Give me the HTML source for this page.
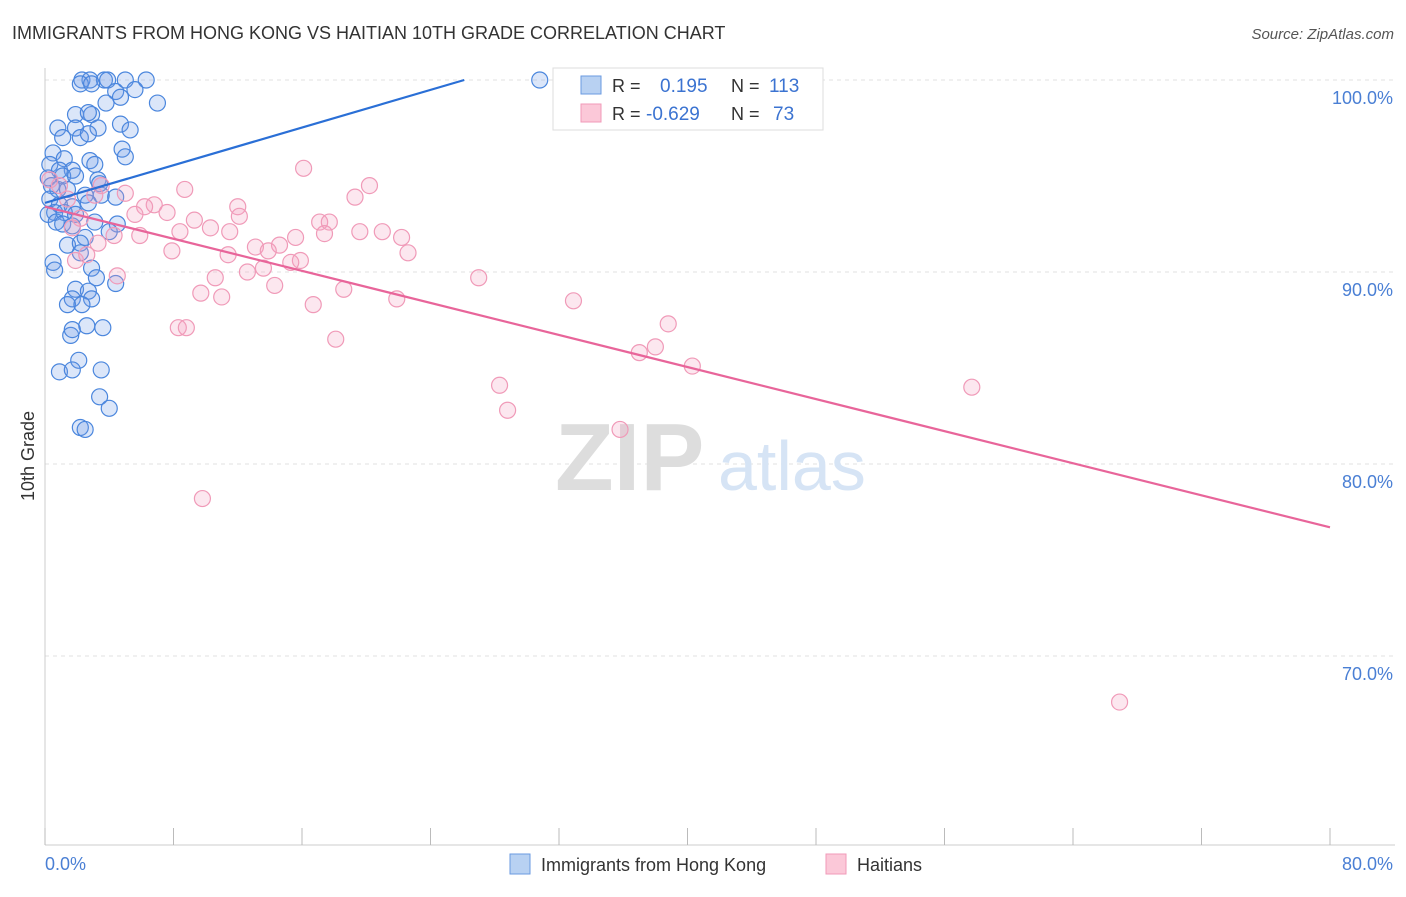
<!DOCTYPE html>
<html><head><meta charset="utf-8">
<style>
body{margin:0;background:#fff;font-family:"Liberation Sans",sans-serif;}
svg text{font-family:"Liberation Sans",sans-serif;}
</style></head>
<body>
<svg width="1406" height="892" xmlns="http://www.w3.org/2000/svg">
<text x="12" y="39" font-size="18" fill="#333">IMMIGRANTS FROM HONG KONG VS HAITIAN 10TH GRADE CORRELATION CHART</text>
<text x="1394" y="39" font-size="15" fill="#555" font-style="italic" text-anchor="end">Source: ZipAtlas.com</text>
<g id="grid"></g>
<g>
<text x="555" y="490" font-size="96" fill="#ddd" font-family="Liberation Serif" font-weight="bold">ZIP</text>
<text x="718" y="490" font-size="70" fill="#d6e4f5">atlas</text>
</g>
<line x1="45" y1="68" x2="45" y2="845" stroke="#ccc"/>
<line x1="45" y1="845" x2="1395" y2="845" stroke="#ccc"/>
<g id="xt"></g>
<g id="yl"></g>
<text x="45" y="870" font-size="18" fill="#4a7fd4">0.0%</text>
<text x="1393" y="870" font-size="18" fill="#4a7fd4" text-anchor="end">80.0%</text>
<text transform="translate(34,456) rotate(-90)" font-size="18" fill="#333" text-anchor="middle">10th Grade</text>
<g id="pts"></g>
<g id="lines"></g>
<g>
<rect x="553" y="68" width="270" height="62" fill="#fff" stroke="#ddd"/>
<rect x="581" y="76" width="20" height="18" fill="#b8d1f2" stroke="#6a9ae0"/>
<rect x="581" y="104" width="20" height="18" fill="#fbc8d8" stroke="#f09ab8"/>
<text x="612" y="92" font-size="18" fill="#333">R =</text>
<text x="660" y="92" font-size="19" fill="#3b73d1">0.195</text>
<text x="731" y="92" font-size="18" fill="#333">N =</text>
<text x="769" y="92" font-size="19" fill="#3b73d1">113</text>
<text x="612" y="120" font-size="18" fill="#333">R =</text>
<text x="646" y="120" font-size="19" fill="#3b73d1">-0.629</text>
<text x="731" y="120" font-size="18" fill="#333">N =</text>
<text x="773" y="120" font-size="19" fill="#3b73d1">73</text>
</g>
<g>
<rect x="510" y="854" width="20" height="20" fill="#b8d1f2" stroke="#6a9ae0"/>
<text x="541" y="871" font-size="18" fill="#333">Immigrants from Hong Kong</text>
<rect x="826" y="854" width="20" height="20" fill="#fbc8d8" stroke="#f09ab8"/>
<text x="857" y="871" font-size="18" fill="#333">Haitians</text>
</g>
</svg>
<script>
const yTicks=[100,90,80,70];
const xTickVals=[0,8,16,24,32,40,48,56,64,72,80];
const blueX=[30.8,2.3,2.8,3.7,3.9,5.0,6.3,2.2,2.9,4.4,5.6,4.7,3.8,7.0,1.9,2.9,2.7,4.7,5.3,0.8,1.9,3.3,1.1,2.2,2.7,4.8,5.0,0.5,1.2,2.8,3.1,0.3,1.7,0.9,0.2,1.1,1.9,3.3,3.4,0.4,0.8,1.4,2.5,3.5,4.4,0.3,0.9,1.7,2.7,0.6,1.2,1.9,0.2,0.7,1.1,1.7,3.1,4.5,4.0,2.5,1.4,2.2,2.2,0.5,0.6,2.9,3.2,4.4,1.9,2.7,1.7,2.9,1.4,2.3,2.6,3.6,1.6,1.7,2.1,0.9,1.7,3.5,3.4,4.0,2.2,2.5];
const blueY=[100,100,100,100,100,100,100,99.8,99.8,99.4,99.5,99.1,98.8,98.8,98.2,98.2,98.3,97.7,97.4,97.5,97.5,97.5,97.0,97.0,97.2,96.4,96.0,96.2,95.9,95.8,95.6,95.6,95.3,95.3,94.9,95.0,95.0,94.8,94.6,94.5,94.3,94.3,94.0,94.0,93.9,93.8,93.5,93.4,93.6,93.1,93.1,93.0,93.0,92.6,92.5,92.4,92.6,92.5,92.1,91.8,91.4,91.5,91.0,90.5,90.1,90.2,89.7,89.4,89.1,89.0,88.6,88.6,88.3,88.3,87.2,87.1,86.7,87.0,85.4,84.8,84.9,84.9,83.5,82.9,81.9,81.8];
const pinkX=[32.4,16.1,20.2,19.3,8.7,5.0,3.5,3.1,12.0,6.8,6.2,7.6,5.6,9.3,10.3,12.1,11.5,8.4,17.1,17.7,21.0,19.6,22.2,17.4,15.6,13.1,14.6,13.9,7.9,11.4,22.6,3.3,4.3,5.9,1.9,2.6,15.9,15.3,13.6,12.6,10.6,4.5,27.0,14.3,18.6,9.7,11.0,21.9,32.9,16.7,8.3,8.8,18.1,38.8,38.0,37.0,40.3,28.3,28.8,57.7,35.8,9.8,66.9,2.2,1.4,0.9,0.3,1.7];
const pinkY=[100,95.4,94.5,93.9,94.3,94.1,94.5,94.0,93.4,93.5,93.4,93.1,93.0,92.7,92.3,92.9,92.1,92.1,92.6,92.6,92.1,92.1,91.8,92.0,91.8,91.3,91.4,91.1,91.1,90.9,91.0,91.5,91.9,91.9,90.6,90.9,90.6,90.5,90.2,90.0,89.7,89.8,89.7,89.3,89.1,88.9,88.7,88.6,88.5,88.3,87.1,87.1,86.5,87.3,86.1,85.8,85.1,84.1,82.8,84.0,81.8,78.2,67.6,92.8,93.8,94.5,94.8,92.3];
const blueTrend=[[0,93.6],[26.1,100]];
const pinkTrend=[[0,93.4],[80,76.7]];
const NS="http://www.w3.org/2000/svg";
const X=v=>45+v*1285/80;
const Y=v=>80+(100-v)*19.2;
function mk(tag,at,parent){const e=document.createElementNS(NS,tag);for(const k in at)e.setAttribute(k,at[k]);document.getElementById(parent).appendChild(e);return e;}
yTicks.forEach(t=>{
 const l=mk('line',{x1:45,x2:1395,y1:Y(t),y2:Y(t),stroke:'#e2e2e2','stroke-dasharray':'4,4'},'grid');
 
 
 const tx=mk('text',{x:1393,y:Y(t)+24,'font-size':18,fill:'#4a7fd4','text-anchor':'end'},'yl');
 tx.textContent=t.toFixed(1)+'%';
 
 
});
xTickVals.forEach(t=>{
 const l=mk('line',{x1:X(t),x2:X(t),y1:828,y2:845,stroke:'#bbb'},'xt');
 
 
});
blueX.forEach((v,i)=>{
 const c=mk('circle',{cx:X(v),cy:Y(blueY[i]),r:8,fill:'rgba(110,155,230,0.25)',stroke:'#4a86dd','stroke-width':1.2},'pts');
 
 
});
pinkX.forEach((v,i)=>{
 const c=mk('circle',{cx:X(v),cy:Y(pinkY[i]),r:8,fill:'rgba(245,160,190,0.25)',stroke:'#f09ab8','stroke-width':1.2},'pts');
 
 
});
const bl=mk('line',{x1:X(blueTrend[0][0]),y1:Y(blueTrend[0][1]),x2:X(blueTrend[1][0]),y2:Y(blueTrend[1][1]),stroke:'#2a6fd6','stroke-width':2.2},'lines');


const pl=mk('line',{x1:X(pinkTrend[0][0]),y1:Y(pinkTrend[0][1]),x2:X(pinkTrend[1][0]),y2:Y(pinkTrend[1][1]),stroke:'#e8659a','stroke-width':2.2},'lines');


</script>
</body></html>
